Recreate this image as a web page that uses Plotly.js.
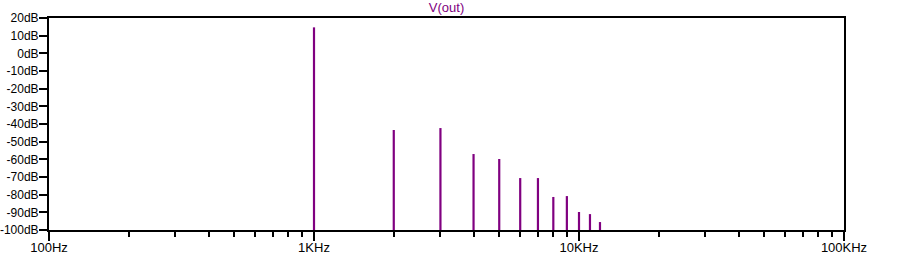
<!DOCTYPE html>
<html><head><meta charset="utf-8">
<script src="https://cdn.plot.ly/plotly-3.0.1.min.js"></script>
<style>html,body{margin:0;padding:0;background:#fff;}#chart{width:903px;height:257px;}</style>
</head><body><div id="chart"></div>
<script>
// Harmonic frequencies (Hz) and their magnitudes (dB)
const freqs = [1000, 2000, 3000, 4000, 5000, 6000, 7000, 8000, 9000, 10000, 11000, 12000];
const magsDb = [14.7, -43.4, -42.3, -57, -59.8, -70.6, -70.6, -81.3, -80.8, -89.8, -91, -95.5];
const floorDb = -100;
const xTickVals = [100, 1000, 10000, 100000];
const xTickText = ['100Hz', '1KHz', '10KHz', '100KHz'];
const yTickVals = [20, 10, 0, -10, -20, -30, -40, -50, -60, -70, -80, -90, -100];
const yTickText = yTickVals.map(v => v + 'dB');
const traceName = 'V(out)';

const xs = [], ys = [];
freqs.forEach((f, i) => { xs.push(f, f, null); ys.push(floorDb, magsDb[i], null); });

const minorVals = [];
[100, 1000, 10000].forEach(d => { for (let k = 2; k <= 9; k++) minorVals.push(d * k); });

const trace = {
  x: xs, y: ys, type: 'scatter', mode: 'lines', name: traceName,
  line: {color: '#800080', width: 2.2}, connectgaps: false, hoverinfo: 'skip'
};

const font = {family: 'Liberation Sans, Arial, sans-serif', size: 13, color: '#000'};
const yFont = {family: font.family, size: 12, color: '#000'};
const layout = {
  width: 903, height: 257,
  margin: {l: 49, r: 59, t: 18, b: 27, pad: 0},
  paper_bgcolor: '#fff', plot_bgcolor: '#fff',
  showlegend: false,
  font: font,
  title: {text: traceName, font: {family: font.family, size: 13, color: '#800080'}, x: 0.4945, xanchor: 'center', yref: 'container', y: 1, yanchor: 'top', pad: {t: 3}},
  xaxis: {
    type: 'log', range: [2, 5], showgrid: false, zeroline: false,
    showline: true, mirror: true, linecolor: '#000', linewidth: 2,
    tickmode: 'array', tickvals: xTickVals, ticktext: xTickText,
    ticks: 'outside', ticklen: 9, tickwidth: 2, tickcolor: '#000',
    ticklabelstandoff: -5,
    tickfont: font,
    minor: {tickmode: 'array', tickvals: minorVals, ticks: 'outside', ticklen: 5, tickwidth: 2, tickcolor: '#000', showgrid: false}
  },
  yaxis: {
    range: [-100, 20], showgrid: false, zeroline: false,
    showline: true, mirror: true, linecolor: '#000', linewidth: 2,
    tickmode: 'array', tickvals: yTickVals, ticktext: yTickText,
    ticks: 'outside', ticklen: 8, tickwidth: 2, tickcolor: '#000',
    ticklabelstandoff: -2,
    tickfont: yFont
  }
};
Plotly.newPlot('chart', [trace], layout, {staticPlot: true, displayModeBar: false});
</script></body></html>
